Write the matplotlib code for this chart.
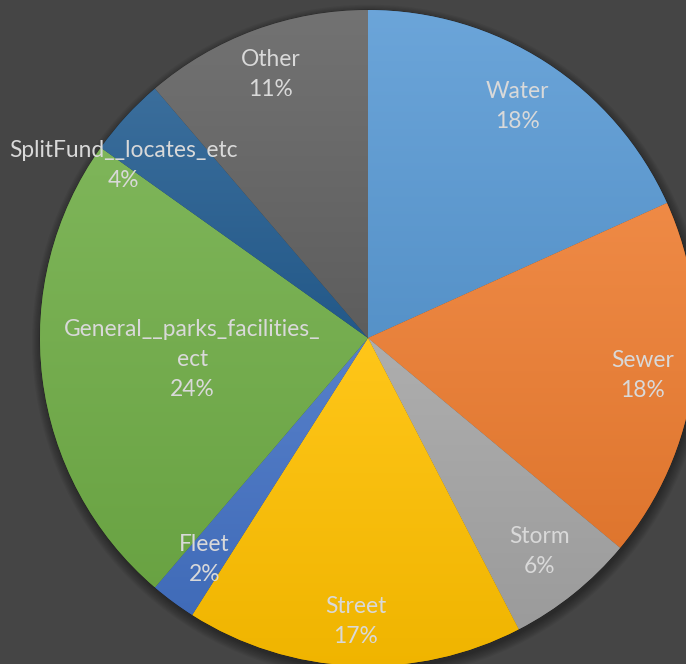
import matplotlib.pyplot as plt
import numpy as np
from matplotlib.colors import to_rgb, LinearSegmentedColormap
from matplotlib.patches import Circle

# Slice data (percent shares)
labels = ["Water", "Sewer", "Storm", "Street", "Fleet",
          "General__parks_facilities_\nect", "SplitFund__locates_etc", "Other"]
shares = [18.25, 17.8, 6.35, 16.6, 2.25, 23.6, 3.9, 11.25]
base_colors = ["#5B9BD5", "#ED7D31", "#A5A5A5", "#FFC000",
               "#4472C4", "#70AD47", "#255E91", "#636363"]

# label placement tweaks (fraction of radius, angle offset in degrees)
label_dist = [0.84, 0.845, 0.835, 0.866, 0.84, 0.54, 0.914, 0.857]
label_dang = [0, 0, 0, 0, 0, 0, -7.3, 0]

bg = "#454545"
plt.rcParams['font.family'] = ['Lato', 'DejaVu Sans']

fig = plt.figure(figsize=(6.86, 6.64), dpi=100, facecolor=bg)
ax = fig.add_axes([0, 0, 1, 1])
ax.set_facecolor(bg)
R = 328.0
ax.set_xlim(-368 / R, (686 - 368) / R)
ax.set_ylim(-(664 - 338) / R, 338 / R)
ax.set_aspect('equal')
ax.axis('off')

# soft shadow under the pie
for k in range(8):
    ax.add_patch(Circle((0.004, -0.012), 1.0 + 0.004 * k, color='black',
                        alpha=0.05, lw=0, zorder=0))

wedges, _ = ax.pie(shares, startangle=90, counterclock=False, radius=1.0,
                   colors=base_colors,
                   wedgeprops=dict(linewidth=0.6, edgecolor=(0, 0, 0, 0.25)))


def shade(c, f):
    r = np.array(to_rgb(c))
    if f > 0:
        return tuple(r + (1 - r) * f)
    return tuple(r * (1 + f))


# vertical gradient fill per slice (lighter top, darker bottom)
for w, c in zip(wedges, base_colors):
    bb = w.get_path().get_extents(w.get_transform() + ax.transData.inverted())
    cmap = LinearSegmentedColormap.from_list("g", [shade(c, -0.06), shade(c, 0.1)])
    grad = np.linspace(0, 1, 256).reshape(-1, 1)
    im = ax.imshow(grad, cmap=cmap, origin='lower', aspect='auto',
                   extent=[bb.x0, bb.x1, bb.y0, bb.y1], zorder=w.get_zorder() + 0.1)
    im.set_clip_path(w)
ax.set_xlim(-368 / R, (686 - 368) / R)
ax.set_ylim(-(664 - 338) / R, 338 / R)

# labels
cum = 0.0
total = sum(shares)
for lab, s, d, da in zip(labels, shares, label_dist, label_dang):
    mid = (cum + s / 2) / total * 360 + da
    cum += s
    th = np.deg2rad(mid)
    x, y = d * np.sin(th), d * np.cos(th)
    ax.text(x, y, f"{lab}\n{round(s / total * 100):.0f}%", ha='center', va='center',
            color='#d9d9d9', fontsize=16.4, linespacing=1.52, zorder=10)

fig.savefig("out.png", dpi=100, facecolor=bg)
